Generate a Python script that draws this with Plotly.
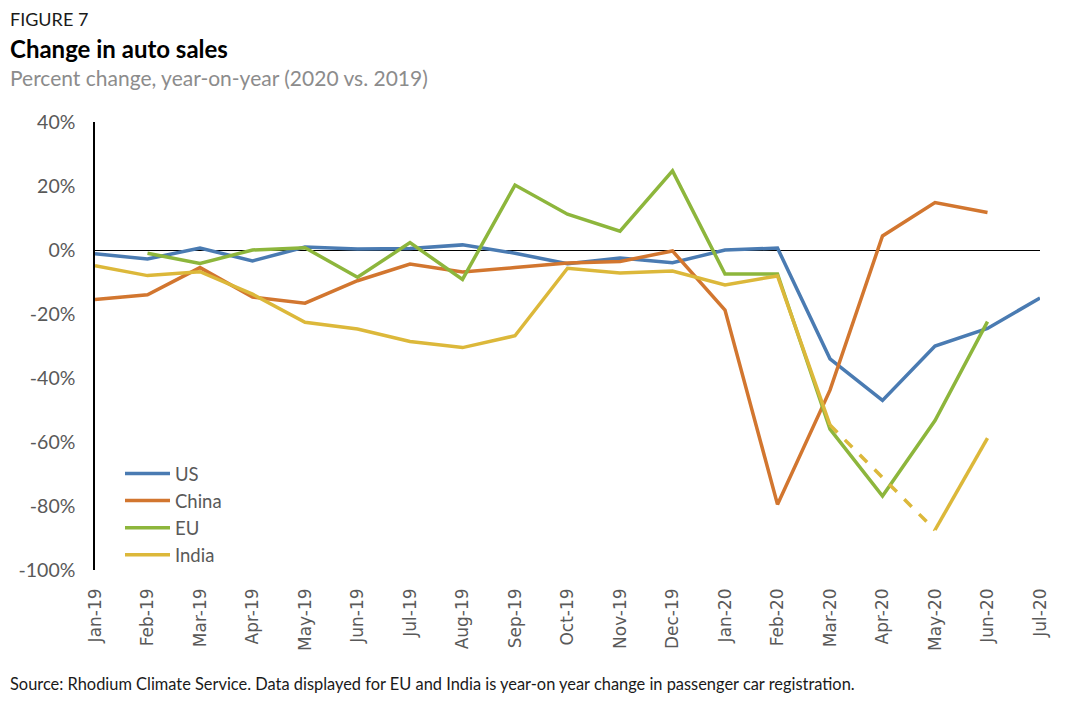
import plotly.graph_objects as go

months = ["Jan-19", "Feb-19", "Mar-19", "Apr-19", "May-19", "Jun-19", "Jul-19", "Aug-19",
          "Sep-19", "Oct-19", "Nov-19", "Dec-19", "Jan-20", "Feb-20", "Mar-20", "Apr-20",
          "May-20", "Jun-20", "Jul-20"]

us = [-1.2, -2.8, 0.6, -3.4, 0.9, 0.3, 0.5, 1.6, -1.0, -4.3, -2.5, -4.0, 0.0, 0.6,
      -34.0, -47.0, -30.0, -24.5, -15.0]
china = [-15.5, -14.0, -5.5, -14.7, -16.6, -9.6, -4.4, -6.9, -5.5, -4.1, -3.6, -0.3,
         -18.8, -79.5, -43.8, 4.4, 14.8, 11.7, None]
eu = [None, -1.0, -4.2, 0.0, 0.7, -8.5, 2.3, -9.2, 20.3, 11.2, 5.9, 24.7, -7.5, -7.5,
      -56.0, -76.9, -53.3, -22.4, None]
india = [-4.9, -8.0, -6.8, -13.8, -22.6, -24.7, -28.6, -30.5, -26.8, -5.7, -7.2, -6.6,
         -10.9, -8.1, -54.7, None, -87.5, -58.8, None]
india_gap_months = ["Mar-20", "May-20"]
india_gap = [-54.7, -87.5]

y_ticks = [40, 20, 0, -20, -40, -60, -80, -100]
y_labels = [f"{v}%" for v in y_ticks]

colors = {"US": "#4a7bb2", "China": "#d2762f", "EU": "#8db63c", "India": "#dcb83a"}
FONT = "Lato, 'Open Sans', sans-serif"

# page has an 8px body margin; figure is sized/offset to compensate
W, H = 1062, 702
L, T, R, B = 87, 114, 30, 140

fig = go.Figure()
for name, vals in [("US", us), ("China", china), ("EU", eu), ("India", india)]:
    fig.add_trace(go.Scatter(x=months, y=vals, name=name, mode="lines",
                             line=dict(color=colors[name], width=3.5),
                             connectgaps=False))
fig.add_trace(go.Scatter(x=india_gap_months, y=india_gap, mode="lines", showlegend=False,
                         line=dict(color=colors["India"], width=3.5, dash="dash")))

fig.update_layout(
    width=W, height=H,
    margin=dict(l=L, t=T, r=R, b=B, autoexpand=False),
    plot_bgcolor="white", paper_bgcolor="white",
    font=dict(family=FONT, color="#595959"),
    showlegend=True,
    legend=dict(x=(120 - 95) / 945, y=(570 - 455) / 448, xanchor="left", yanchor="top",
                font=dict(size=18.5, color="#595959"), bgcolor="rgba(0,0,0,0)",
                tracegroupgap=0, itemwidth=45),
    xaxis=dict(type="category", categoryorder="array", categoryarray=months,
               range=[0, len(months) - 1], tickangle=-90, showgrid=False,
               showline=False, ticks="", ticklabelstandoff=14,
               tickfont=dict(size=17, color="#595959", family="DejaVu Sans")),
    yaxis=dict(range=[-100, 40], tickvals=y_ticks, ticktext=y_labels, showgrid=False,
               showline=True, linecolor="black", linewidth=1.5, zeroline=True,
               zerolinecolor="black", zerolinewidth=1.2, ticks="", ticklabelstandoff=14,
               tickfont=dict(size=19.5, color="#595959")),
)

texts = [
    ("FIGURE 7", 19, 18, "#1a1a1a"),
    ("<b>Change in auto sales</b>", 48, 24, "#000000"),
    ("Percent change, year-on-year (2020 vs. 2019)", 78, 21, "#8c8c8c"),
    ("Source: Rhodium Climate Service. Data displayed for EU and India is year-on year change in passenger car registration.", 683, 16.4, "#1a1a1a"),
]
for t, ypx, size, col in texts:
    fig.add_annotation(text=t, xref="paper", yref="paper",
                       x=(8 - 95) / 945, y=(570 - ypx) / 448,
                       xanchor="left", yanchor="middle", showarrow=False,
                       font=dict(size=size, color=col, family=FONT))

fig.write_html("out.html")
